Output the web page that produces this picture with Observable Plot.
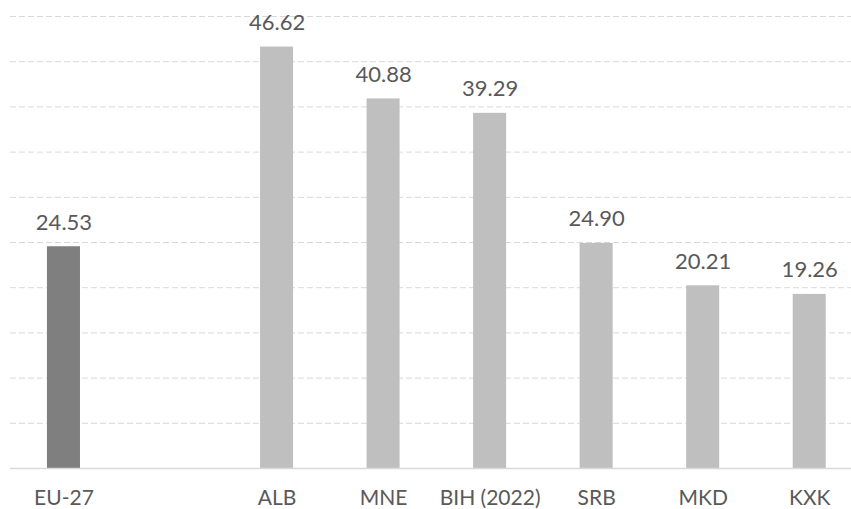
<!DOCTYPE html>
<html>
<head>
<meta charset="utf-8">
<script src="https://cdn.jsdelivr.net/npm/d3@7"></script>
<script src="https://cdn.jsdelivr.net/npm/@observablehq/plot@0.6"></script>
<style>
  html, body { margin: 0; padding: 0; background: #fff; }
  #chart svg { display: block; }
</style>
</head>
<body>
<div id="chart"></div>
<script>
const categories = ["EU-27", " ", "ALB", "MNE", "BIH (2022)", "SRB", "MKD", "KXK"];
const barCategories = ["EU-27", "ALB", "MNE", "BIH (2022)", "SRB", "MKD", "KXK"];
const values = [24.53, 46.62, 40.88, 39.29, 24.90, 20.21, 19.26];
const gridTicks = [5, 10, 15, 20, 25, 30, 35, 40, 45, 50];

const data = barCategories.map((c, i) => ({cat: c, value: values[i]}));
const font = "Lato, 'Open Sans', 'DejaVu Sans', sans-serif";

const chart = Plot.plot({
  width: 851,
  height: 509,
  marginLeft: 10,
  marginRight: 0,
  marginTop: 16,
  marginBottom: 41,
  style: {fontFamily: font, background: "#fff"},
  x: {domain: categories, range: [10.2, 862.5], paddingInner: 0.69, paddingOuter: 0.345, round: false, label: null},
  y: {domain: [0, 50], axis: null},
  marks: [
    Plot.ruleY(gridTicks, {stroke: "#d9d9d9", strokeWidth: 1, strokeDasharray: "6,3"}),
    Plot.barY(data, {
      x: "cat", y: "value",
      fill: d => d.cat === "EU-27" ? "#7f7f7f" : "#bfbfbf"
    }),
    Plot.ruleY([0], {stroke: "#d9d9d9", strokeWidth: 1.5}),
    Plot.text(data, {
      x: "cat", y: "value",
      text: d => d.value.toFixed(2),
      dy: -17, lineAnchor: "bottom",
      fill: "#595959", fontSize: 22
    }),
    Plot.axisX({tickSize: 0, tickPadding: 22, fontSize: 21, color: "#595959", label: null})
  ]
});
document.getElementById("chart").append(chart);
</script>
</body>
</html>
